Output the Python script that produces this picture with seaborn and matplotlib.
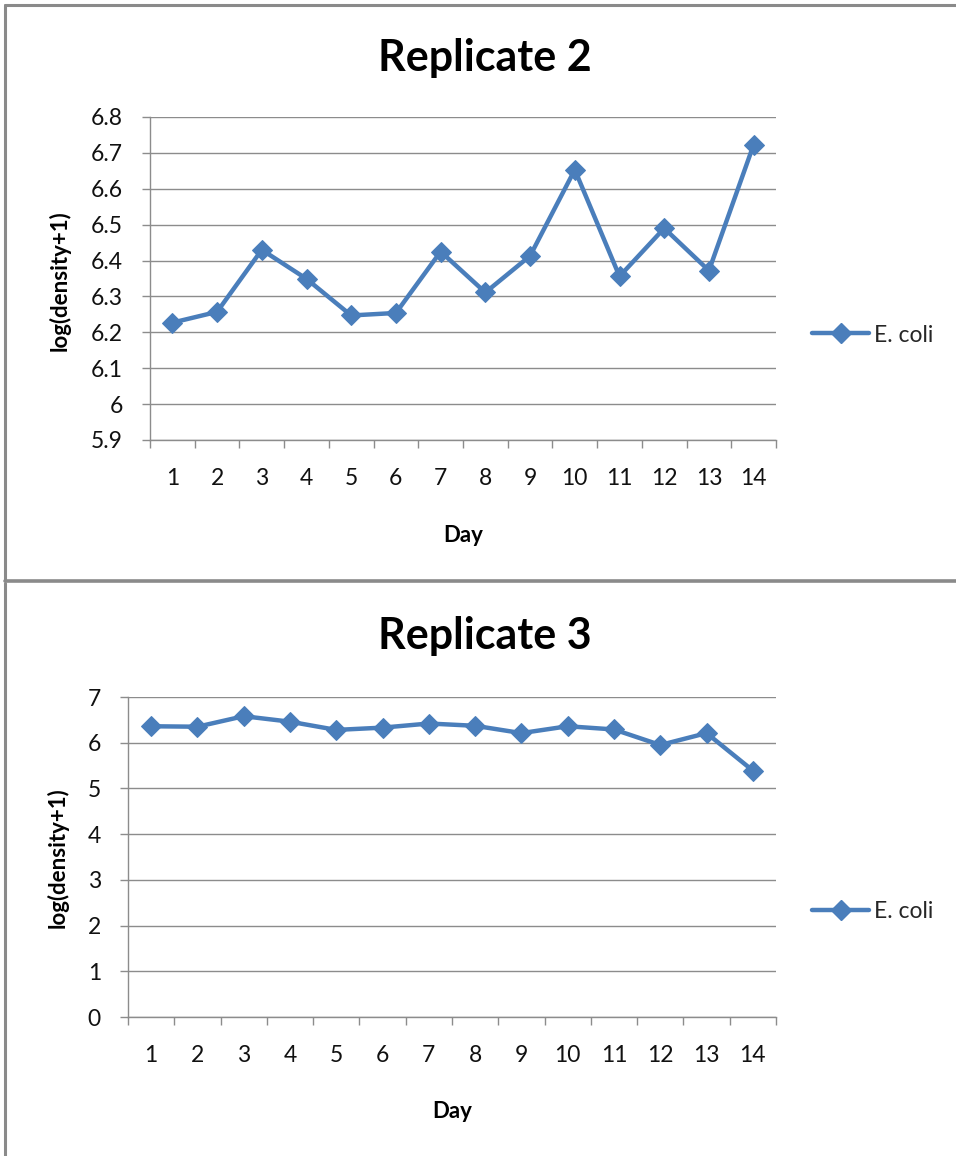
import matplotlib
matplotlib.use("Agg")
import matplotlib.pyplot as plt
from matplotlib.lines import Line2D
from matplotlib.ticker import FixedLocator, NullFormatter
import numpy as np
import pandas as pd
import seaborn as sns

# Daily log densities of E. coli for two replicates
days = list(range(1, 15))
rep2_values = [6.227, 6.257, 6.430, 6.349, 6.247, 6.254, 6.425,
               6.311, 6.413, 6.653, 6.356, 6.490, 6.372, 6.723]
rep3_values = [6.36, 6.35, 6.58, 6.46, 6.28, 6.33, 6.42,
               6.37, 6.21, 6.36, 6.29, 5.95, 6.21, 5.39]
series_name = "E. coli"
rep2_yticks = [5.9, 6.0, 6.1, 6.2, 6.3, 6.4, 6.5, 6.6, 6.7, 6.8]
rep2_yticklabels = ["5.9", "6", "6.1", "6.2", "6.3", "6.4", "6.5", "6.6", "6.7", "6.8"]
rep3_yticks = [0, 1, 2, 3, 4, 5, 6, 7]
rep3_yticklabels = [str(v) for v in rep3_yticks]

sns.set_theme(style="white")
plt.rcParams["font.family"] = ["Lato", "DejaVu Sans"]

W, H = 956, 1156
fig = plt.figure(figsize=(W / 100, H / 100), dpi=100)

LINE_BLUE = "#4a7ebb"
GRID_GRAY = "#8c8c8c"
FRAME_GRAY = "#8a8a8a"
TICK_FS = 16.5
LABEL_FS = 16
TITLE_FS = 31
MARKER_SIZE = 10
LINE_W = 3.2


def px_axes(left, top, right, bottom):
    return fig.add_axes([left / W, 1 - bottom / H, (right - left) / W, (bottom - top) / H])


def draw_panel(ax, values, yticks, yticklabels, ylim, title, title_y, ylabel_x,
               ylabel_y, xlabel_x, xlabel_y, legend_y):
    df = pd.DataFrame({"Day": days, "value": values, "series": series_name})
    sns.lineplot(data=df, x="Day", y="value", hue="series", ax=ax,
                 palette=[LINE_BLUE], marker="D", markersize=MARKER_SIZE,
                 markeredgecolor=LINE_BLUE, linewidth=LINE_W, legend=False)
    ax.set_xlim(0.5, 14.5)
    ax.set_ylim(*ylim)
    ax.set_yticks(yticks)
    ax.set_yticklabels(yticklabels)
    ax.set_xticks(days)
    ax.set_xticklabels([str(d) for d in days])
    ax.xaxis.set_minor_locator(FixedLocator(np.arange(0.5, 15, 1.0)))
    ax.xaxis.set_minor_formatter(NullFormatter())
    ax.tick_params(axis="x", which="major", length=0, pad=20, labelsize=TICK_FS,
                   labelcolor="#111111")
    ax.tick_params(axis="x", which="minor", bottom=True, length=6, width=1,
                   color=GRID_GRAY, direction="out")
    ax.tick_params(axis="y", which="major", left=True, length=6, width=1,
                   color=GRID_GRAY, direction="out", pad=13.5, labelsize=TICK_FS,
                   labelcolor="#111111")
    ax.yaxis.grid(True, color=GRID_GRAY, linewidth=1.0)
    ax.xaxis.grid(False)
    ax.set_axisbelow(True)
    for side in ("top", "right"):
        ax.spines[side].set_visible(False)
    for side in ("left", "bottom"):
        ax.spines[side].set_color(GRID_GRAY)
        ax.spines[side].set_linewidth(1.0)
    ax.set_xlabel("")
    ax.set_ylabel("")

    fig.text(485 / W, 1 - title_y / H, title, ha="center", va="center",
             fontsize=TITLE_FS, fontweight="bold", color="#000000")
    fig.text(ylabel_x / W, 1 - ylabel_y / H, "log(density+1)",
             rotation=90, ha="center", va="center", fontsize=LABEL_FS,
             fontweight="bold", color="#000000")
    fig.text(xlabel_x / W, 1 - xlabel_y / H, "Day", ha="center",
             va="center", fontsize=LABEL_FS, fontweight="bold", color="#000000")

    handle = Line2D([0], [0], color=LINE_BLUE, linewidth=LINE_W, marker="D",
                    markersize=MARKER_SIZE, markeredgecolor=LINE_BLUE)
    fig.legend([handle], [series_name], loc="center left",
               bbox_to_anchor=(812 / W, 1 - legend_y / H), frameon=False,
               fontsize=TICK_FS, handlelength=2.5, handletextpad=0.22,
               borderaxespad=0, borderpad=0)


ax2 = px_axes(150, 117, 776, 440)
draw_panel(ax2, rep2_values, rep2_yticks, rep2_yticklabels, (5.9, 6.8),
           "Replicate 2", 58, 60, 281, 463, 535, 335)

ax3 = px_axes(128, 697, 776, 1017)
draw_panel(ax3, rep3_values, rep3_yticks, rep3_yticklabels, (0, 7),
           "Replicate 3", 636, 58, 858, 452, 1112, 912)

# Chart frames
def fig_line(x0, y0, x1, y1, lw=2.2):
    fig.add_artist(Line2D([x0 / W, x1 / W], [1 - y0 / H, 1 - y1 / H],
                          color=FRAME_GRAY, linewidth=lw,
                          transform=fig.transFigure))

fig_line(5, 5, W, 5)
fig_line(5, 5, 5, 580)
fig_line(5, 581, W, 581, lw=2.6)
fig_line(5, 583, 5, H)

fig.savefig("out.png", dpi=100, facecolor="white")
